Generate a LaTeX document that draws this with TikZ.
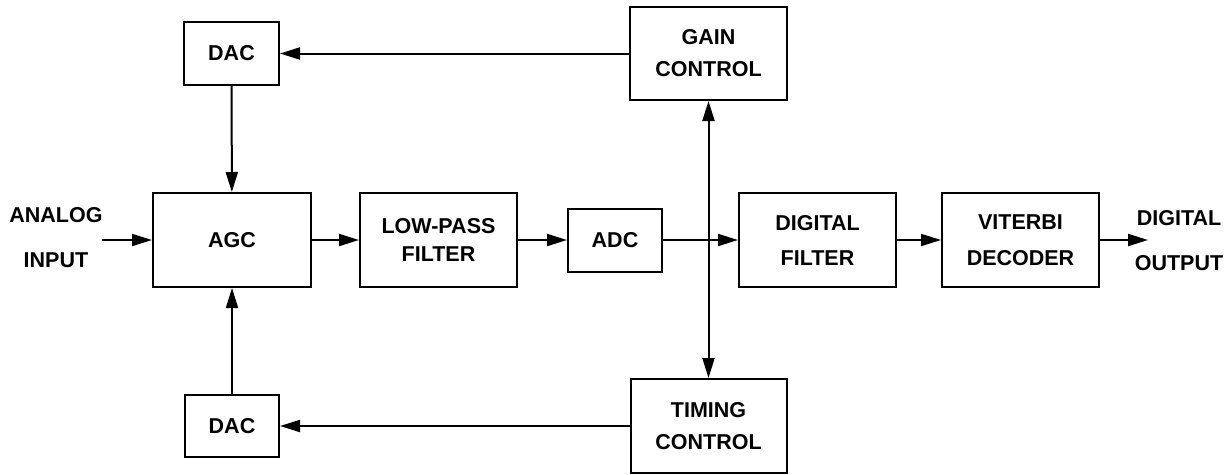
\documentclass[tikz,border=0pt]{standalone}
\usepackage{fontspec}
\setmainfont{Liberation Sans}
\usetikzlibrary{arrows.meta}
\begin{document}
\begin{tikzpicture}[x=1pt,y=-1pt,
  blk/.style={draw, line width=2pt, inner sep=0pt, align=center,
    font=\fontsize{21.5}{32}\selectfont\bfseries},
  lbl/.style={inner sep=0pt, align=center, font=\fontsize{21.5}{45}\selectfont\bfseries},
  tip/.tip={Triangle[length=20pt,width=12pt]},
  conn/.style={line width=2pt, -tip},
  conn2/.style={line width=2pt, tip-tip}]
\useasboundingbox (0,0) rectangle (1230,474);
\node[blk, minimum width=95pt, minimum height=63pt] (dac1) at (231.5,53.5) {DAC};
\node[blk, minimum width=157pt, minimum height=93pt] (gain) at (708.5,53.5) {GAIN\\CONTROL};
\node[blk, minimum width=158pt, minimum height=94pt] (agc) at (232,240) {AGC};
\node[blk, minimum width=157pt, minimum height=94pt, font=\fontsize{21.5}{28}\selectfont\bfseries] (lpf) at (438.5,240) {LOW-PASS\\FILTER};
\node[blk, minimum width=94pt, minimum height=63pt] (adc) at (615,240) {ADC};
\node[blk, minimum width=157pt, minimum height=94pt, font=\fontsize{21.5}{35}\selectfont\bfseries] (df) at (817.5,240) {DIGITAL\\FILTER};
\node[blk, minimum width=157pt, minimum height=94pt, font=\fontsize{21.5}{36}\selectfont\bfseries] (vit) at (1020.5,240) {VITERBI\\DECODER};
\node[blk, minimum width=94pt, minimum height=62pt] (dac2) at (232,426) {DAC};
\node[blk, minimum width=156pt, minimum height=94pt] (tim) at (708.5,426) {TIMING\\CONTROL};
\node[lbl] (ain) at (56,238) {ANALOG\\INPUT};
\node[lbl] (dout) at (1179,241) {DIGITAL\\OUTPUT};
\coordinate (ainend) at (102,240);
\coordinate (doutend) at (1148,240);
\draw[conn] (ainend) -- (agc.west);
\draw[conn] (agc) -- (lpf);
\draw[conn] (lpf) -- (adc);
\draw[conn] (adc) -- (df);
\draw[conn] (df) -- (vit);
\draw[conn] (vit) -- (doutend);
\draw[conn] (gain.west) -- (dac1.east);
\draw[conn] (dac1) -- (agc);
\draw[conn] (dac2) -- (agc);
\draw[conn] (tim.west) -- (dac2.east);
\draw[conn2] (gain.south) -- (tim.north);
\end{tikzpicture}
\end{document}
